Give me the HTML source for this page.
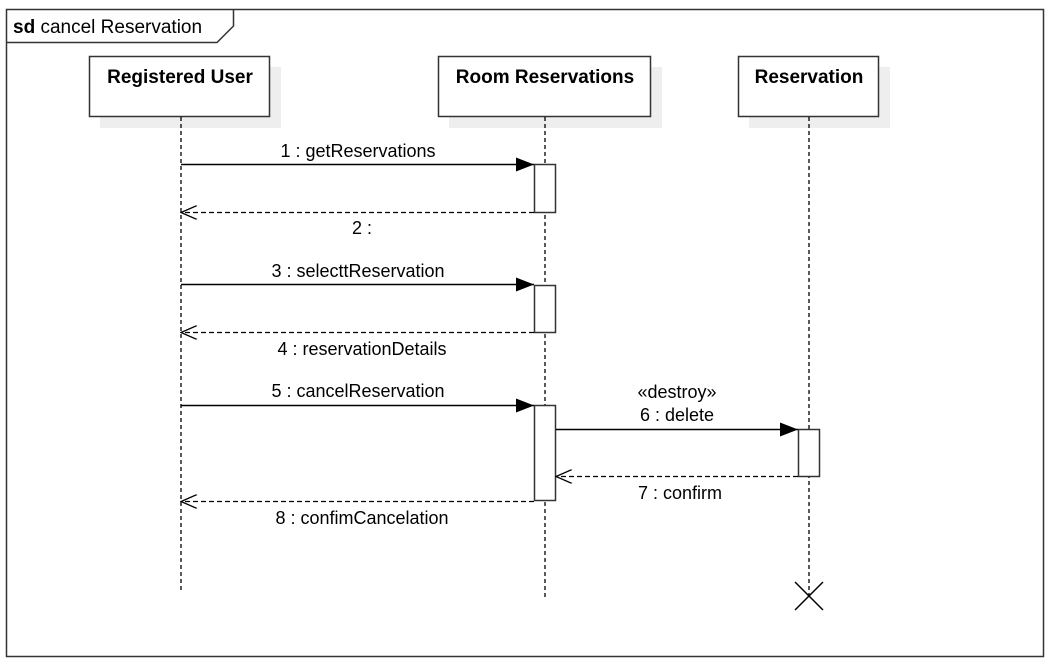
<!DOCTYPE html>
<html><head><style>body{margin:0;background:#fff}svg{display:block}text{font-family:"Liberation Sans",Arial,sans-serif;font-size:18px;fill:#000}</style></head><body>
<svg width="1051" height="662" xmlns="http://www.w3.org/2000/svg">
<defs>
<marker id="f" markerWidth="18" markerHeight="14" refX="18" refY="7" orient="auto" markerUnits="userSpaceOnUse"><path d="M0,0 L18,7 L0,14 Z" fill="#000"/></marker>
<marker id="o" markerWidth="18" markerHeight="14" refX="17" refY="7" orient="auto" markerUnits="userSpaceOnUse"><path d="M1,0 L17,7 L1,14" fill="none" stroke="#000" stroke-width="1.3"/></marker>
</defs>
<rect x="6.5" y="9.5" width="1037" height="647" fill="#fff" stroke="#333" stroke-width="1.5"/>
<path d="M6.5,42.5 L217,42.5 L233.5,26 L233.5,9.5" fill="none" stroke="#333" stroke-width="1.5"/>
<text x="13" y="33" style="font-size:19px"><tspan font-weight="bold">sd</tspan> cancel Reservation</text>
<g fill="#eee"><rect x="100" y="67" width="181" height="61"/><rect x="449" y="67" width="213" height="61"/><rect x="749" y="67" width="141" height="61"/></g>
<g fill="#fff" stroke="#333" stroke-width="1.5">
<rect x="89.5" y="56.5" width="180" height="60"/><rect x="438.5" y="56.5" width="212" height="60"/><rect x="738.5" y="56.5" width="140" height="60"/></g>
<g text-anchor="middle"><text x="180" y="83" style="font-weight:bold;font-size:19px">Registered User</text><text x="545" y="83" style="font-weight:bold;font-size:19px">Room Reservations</text><text x="809" y="83" style="font-weight:bold;font-size:19px">Reservation</text></g>
<g stroke="#000" stroke-width="1.3" stroke-dasharray="4,3">
<line x1="181" y1="117" x2="181" y2="591"/><line x1="545" y1="117" x2="545" y2="598"/><line x1="809" y1="117" x2="809" y2="596"/></g>
<g fill="#fff" stroke="#333" stroke-width="1.5">
<rect x="534.5" y="164.5" width="21" height="48"/><rect x="534.5" y="285.5" width="21" height="47"/><rect x="534.5" y="405.5" width="21" height="95"/><rect x="798.5" y="429.5" width="21" height="47"/></g>
<g stroke="#000" stroke-width="1.5" fill="none">
<line x1="181" y1="164.5" x2="534" y2="164.5" marker-end="url(#f)"/>
<line x1="181" y1="284.5" x2="534" y2="284.5" marker-end="url(#f)"/>
<line x1="181" y1="405.5" x2="534" y2="405.5" marker-end="url(#f)"/>
<line x1="556" y1="429.5" x2="798" y2="429.5" marker-end="url(#f)"/>
</g>
<g stroke="#000" stroke-width="1.3" fill="none" stroke-dasharray="5,3">
<line x1="534" y1="212.5" x2="181" y2="212.5" marker-end="url(#o)"/>
<line x1="534" y1="332.5" x2="181" y2="332.5" marker-end="url(#o)"/>
<line x1="798" y1="476.5" x2="556" y2="476.5" marker-end="url(#o)"/>
<line x1="534" y1="501.5" x2="181" y2="501.5" marker-end="url(#o)"/>
</g>
<path d="M795,582 L823,610 M823,582 L795,610" stroke="#000" stroke-width="1.5"/>
<g text-anchor="middle">
<text x="358" y="157">1 : getReservations</text>
<text x="362" y="234">2 :</text>
<text x="358" y="277">3 : selecttReservation</text>
<text x="362" y="355">4 : reservationDetails</text>
<text x="358" y="397">5 : cancelReservation</text>
<text x="677" y="398">«destroy»</text>
<text x="677" y="421">6 : delete</text>
<text x="680" y="499">7 : confirm</text>
<text x="362" y="524">8 : confimCancelation</text>
</g>
</svg>
</body></html>
